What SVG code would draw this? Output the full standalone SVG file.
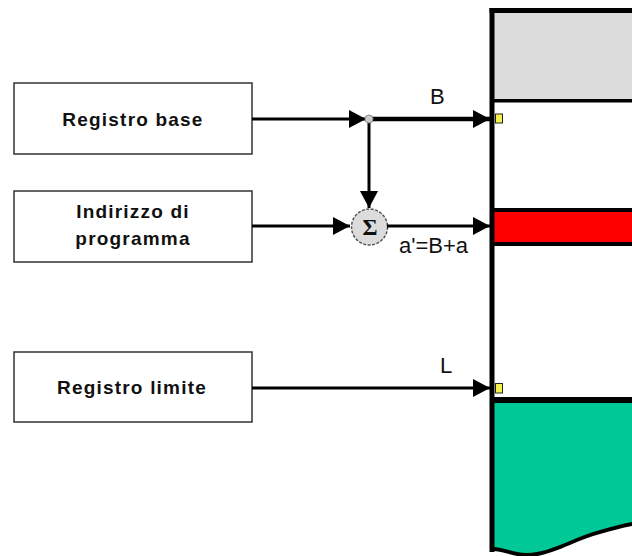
<svg xmlns="http://www.w3.org/2000/svg" width="632" height="556" viewBox="0 0 632 556">
  <style>
    .box { fill: #ffffff; stroke: #333333; stroke-width: 1.5; }
    .boxtext { font-family: "Liberation Sans", Arial, sans-serif; font-weight: bold; font-size: 19px; letter-spacing: 1.2px; fill: #111111; text-anchor: middle; }
    .label { font-family: "Liberation Sans", Arial, sans-serif; font-size: 22px; fill: #111111; }
    .wire { fill: none; stroke: #000000; stroke-width: 3; }
    .wire-thick { fill: none; stroke: #000000; stroke-width: 4.5; }
    .port { fill: #f6f04a; stroke: #222222; stroke-width: 1; }
  </style>
  <defs>
    <marker id="arrow" markerUnits="userSpaceOnUse" markerWidth="18" markerHeight="20" refX="17" refY="10" orient="auto">
      <path d="M0,1 L17,10 L0,19 Z" fill="#000000"/>
    </marker>
  </defs>

  <rect width="632" height="556" fill="#ffffff"/>

  <!-- memory column -->
  <g id="memory">
    <rect x="494" y="13" width="138" height="86" fill="#dcdcdc"/>
    <rect x="489.5" y="8" width="143" height="5" fill="#000000"/>
    <rect x="494" y="99" width="138" height="3.5" fill="#000000"/>
    <rect x="494" y="208" width="138" height="38" fill="#000000"/>
    <rect x="494" y="212" width="138" height="30" fill="#ff0000"/>
    <path d="M494,401 H632 V526 C612,530 590,536 570,545 C553,552 540,557 527,557 C515,557 505,552 494,551 Z" fill="#000000"/>
    <rect x="494" y="397" width="138" height="6" fill="#000000"/>
    <path d="M494,403 H632 V522 C612,526 590,532 570,541 C553,548 540,553 527,553 C515,553 505,548 494,547 Z" fill="#00c896"/>
    <rect x="489.5" y="8" width="5" height="544" fill="#000000"/>
    <rect class="port" x="495.5" y="114" width="7" height="9"/>
    <rect class="port" x="495.5" y="383.5" width="7" height="9.5"/>
  </g>

  <g id="registro-base">
    <rect class="box" x="14" y="83" width="238" height="71"/>
    <text class="boxtext" x="133" y="126">Registro base</text>
  </g>

  <g id="indirizzo-programma">
    <rect class="box" x="14" y="191" width="238" height="71"/>
    <text class="boxtext" x="133" y="218">Indirizzo di</text>
    <text class="boxtext" x="133" y="245">programma</text>
  </g>

  <g id="registro-limite">
    <rect class="box" x="14" y="352" width="238" height="70"/>
    <text class="boxtext" x="132" y="394">Registro limite</text>
  </g>

  <g id="sommatore">
    <circle cx="369.5" cy="227" r="18" fill="#dcdcdc" stroke="#555555" stroke-width="1.5" stroke-dasharray="3,1.5"/>
    <text x="370" y="235" font-family="'Liberation Serif', 'Times New Roman', serif" font-weight="bold" font-size="23" text-anchor="middle" fill="#111111">Σ</text>
  </g>

  <!-- connectors -->
  <g id="connectors">
    <line class="wire" x1="252" y1="119" x2="366" y2="119" marker-end="url(#arrow)"/>
    <line class="wire-thick" x1="369" y1="119" x2="490" y2="119" marker-end="url(#arrow)"/>
    <line class="wire" x1="369" y1="119" x2="369" y2="208" marker-end="url(#arrow)"/>
    <line class="wire" x1="252" y1="226" x2="350" y2="226" marker-end="url(#arrow)"/>
    <line class="wire" x1="387" y1="226" x2="490" y2="226" marker-end="url(#arrow)"/>
    <line class="wire" x1="252" y1="388" x2="490" y2="388" marker-end="url(#arrow)"/>
    <circle cx="369" cy="119" r="4" fill="#cccccc" stroke="#888888" stroke-width="1"/>
  </g>

  <g id="labels">
    <text class="label" x="430" y="104">B</text>
    <text class="label" x="399" y="253">a'=B+a</text>
    <text class="label" x="440" y="373">L</text>
  </g>
</svg>
